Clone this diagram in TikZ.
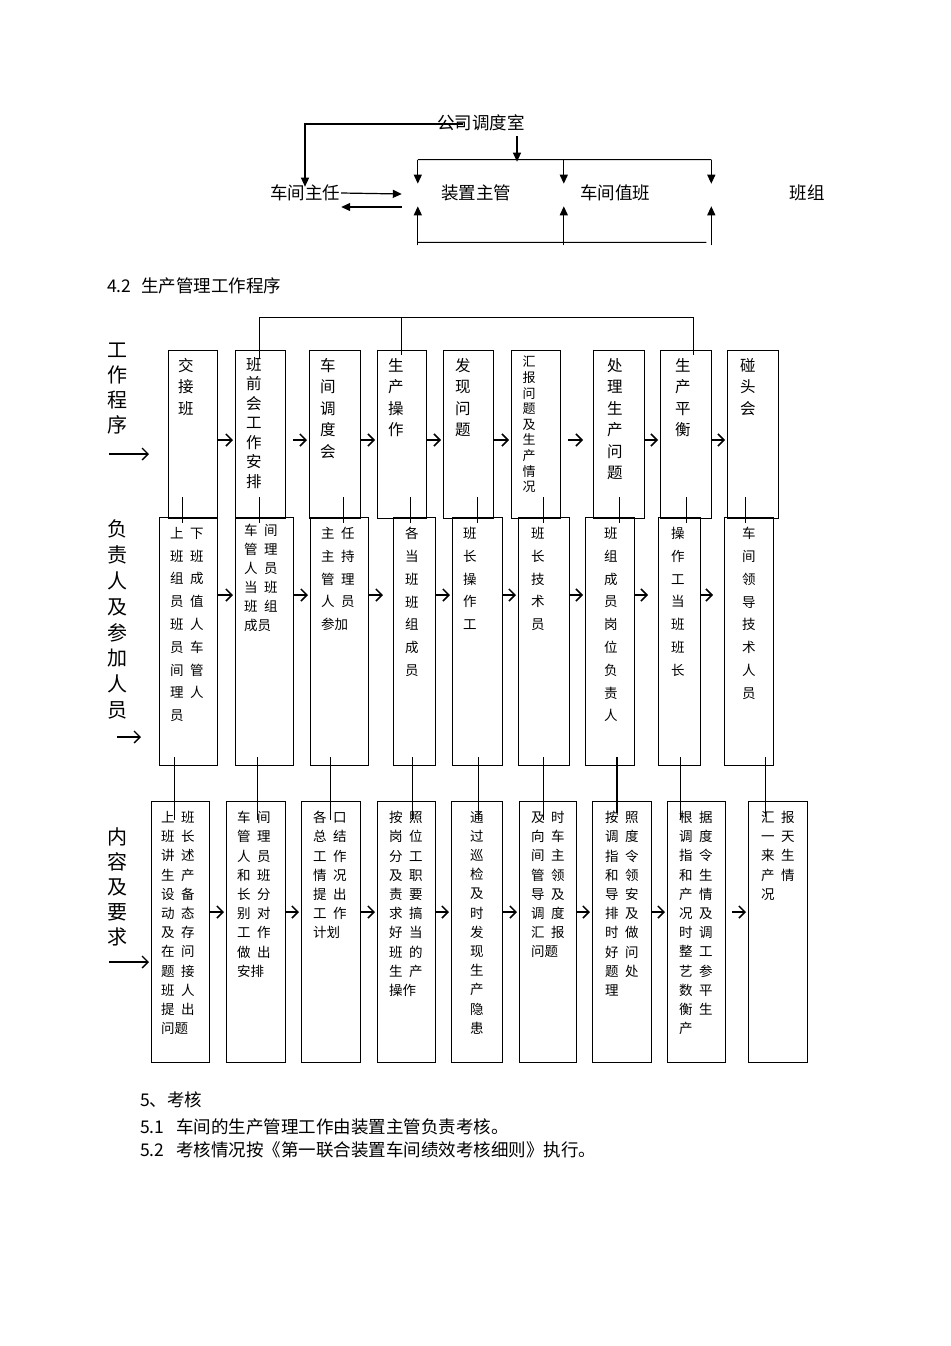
\documentclass[tikz,border=0pt]{standalone}
\usepackage{fontspec}
\setmainfont{Noto Sans CJK SC}
\usetikzlibrary{arrows.meta,calc}

\newcommand{\twocol}[2]{\makebox[20pt][l]{#1}#2}

\tikzset{
  stepbox/.style={draw, line width=1pt, inner sep=0pt, outer sep=0pt},
  workbox/.style={stepbox, minimum height=168},
  staffbox/.style={stepbox, minimum height=248},
  taskbox/.style={stepbox, minimum height=261},
  headcell/.style={anchor=north west, inner sep=0pt, align=left, font=\fontsize{15.5}{21.5}\selectfont},
  staffcell/.style={anchor=north west, inner sep=0pt, align=left, font=\fontsize{13.5}{22.8}\selectfont},
  taskcell/.style={anchor=north west, inner sep=0pt, align=left, font=\fontsize{13.5}{19.2}\selectfont},
  sidelabel/.style={inner sep=0pt, align=center, font=\fontsize{20}{25}\selectfont},
  toptext/.style={inner sep=1pt, font=\fontsize{17.5}{21}\selectfont},
  plaintext/.style={anchor=west, inner sep=0pt, font=\fontsize{17.5}{21}\selectfont},
  link/.style={draw, line width=1pt},
  tip/.style={draw, line width=1.2pt, -{Triangle[length=9pt,width=8pt]}},
  flow/.style={draw, line width=1.5pt, -{Straight Barb[length=6pt,width=12pt]}},
  sidearrow/.style={draw, line width=1.3pt, -{Straight Barb[length=6pt,width=12pt]}}
}

\begin{document}
\begin{tikzpicture}[x=1pt,y=-1pt]
\useasboundingbox (0,0) rectangle (950,1346);
\fill[white] (0,0) rectangle (950,1346);

% top chart
\node[toptext] (dispatch) at (481,123) {公司调度室};
\node[toptext] (director) at (305,193) {车间主任};
\node[toptext] (unitmgr) at (476,193) {装置主管};
\node[toptext] (duty) at (615,193) {车间值班};
\node[toptext] (team) at (807,193) {班组};

\coordinate (busL) at ($(unitmgr.north west)+(-22,-24)$);
\coordinate (busR) at ($(team.north west)+(-77,-24)$);
\coordinate (baseL) at ($(unitmgr.south west)+(-22,40)$);
\coordinate (baseR) at ($(team.south west)+(-82,40)$);

\draw[tip, shorten >=-3pt] ($(dispatch.west)+(27,1)$) -| (director.north);
\draw[tip] ($(dispatch.south)+(36,4)$) -- ($(busL -| dispatch.south)+(36,2)$);
\draw[link] (busL) -- (busR);
\draw[tip] (busL) -- ($(unitmgr.north west)+(-22,0)$);
\draw[tip] ($(duty.north west)+(-15,-24)$) -- ($(duty.north west)+(-15,0)$);
\draw[tip] (busR) -- ($(team.north west)+(-77,0)$);
\draw[link] (baseL) -- (baseR);
\draw[tip] ($(unitmgr.south west)+(-22,43)$) -- ($(unitmgr.south west)+(-22,4)$);
\draw[tip] ($(duty.south west)+(-15,43)$) -- ($(duty.south west)+(-15,4)$);
\draw[tip] ($(team.south west)+(-77,43)$) -- ($(team.south west)+(-77,4)$);
\draw[tip] (director.east) -- ($(unitmgr.west)+(-38,1)$);
\draw[tip] ($(unitmgr.west)+(-38,14)$) -- ($(director.east)+(0,14)$);

\node[plaintext] (sec42) at (107,286) {4.2\hspace{10pt}生产管理工作程序};

% side labels
\node[sidelabel] (lblwork) at (117,389) {工\\作\\程\\序};
\node[sidelabel, font=\fontsize{20}{25.9}\selectfont] (lblstaff) at (117,619.5) {负\\责\\人\\及\\参\\加\\人\\员};
\node[sidelabel] (lbltask) at (117,887) {内\\容\\及\\要\\求};

% row 1
\node[workbox, minimum width=49] (work1) at (192.5,434) {};
\node[workbox, minimum width=50] (work2) at (260,434) {};
\node[workbox, minimum width=51] (work3) at (334.5,434) {};
\node[workbox, minimum width=49] (work4) at (401.5,434) {};
\node[workbox, minimum width=50] (work5) at (468,434) {};
\node[workbox, minimum width=49] (work6) at (535.5,434) {};
\node[workbox, minimum width=51] (work7) at (618.5,434) {};
\node[workbox, minimum width=51] (work8) at (685.5,434) {};
\node[workbox, minimum width=51] (work9) at (752.5,434) {};

\node[headcell] at ($(work1.north west)+(10,8)$) {交\\接\\班};
\node[headcell, font=\fontsize{15.5}{19.5}\selectfont] at ($(work2.north west)+(11,7)$) {班\\前\\会\\工\\作\\安\\排};
\node[headcell] at ($(work3.north west)+(11,8)$) {车\\间\\调\\度\\会};
\node[headcell] at ($(work4.north west)+(11,8)$) {生\\产\\操\\作};
\node[headcell] at ($(work5.north west)+(12,8)$) {发\\现\\问\\题};
\node[headcell, font=\fontsize{13}{15.6}\selectfont] at ($(work6.north west)+(11.5,6)$) {汇\\报\\问\\题\\及\\生\\产\\情\\况};
\node[headcell] at ($(work7.north west)+(14,8)$) {处\\理\\生\\产\\问\\题};
\node[headcell] at ($(work8.north west)+(15,8)$) {生\\产\\平\\衡};
\node[headcell] at ($(work9.north west)+(13,8)$) {碰\\头\\会};

\draw[link] ($(work2.north west)+(24,9)$) |- ($(work8.north west)+(33,-33)$) -- ($(work8.north west)+(33,5)$);
\draw[link] ($(work4.north west)+(24,5)$) -- ($(work4.north west)+(24,-33)$);

\draw[flow] ($(work1.east)+(0,6)$) -- ($(work2.west)+(-2,6)$);
\draw[flow] ($(work2.east)+(8,6)$) -- ($(work3.west)+(-2,6)$);
\draw[flow] ($(work3.east)+(0,6)$) -- ($(work4.west)+(-2,6)$);
\draw[flow] ($(work4.east)+(0,6)$) -- ($(work5.west)+(-2,6)$);
\draw[flow] ($(work5.east)+(0,6)$) -- ($(work6.west)+(-2,6)$);
\draw[flow] ($(work6.east)+(8,6)$) -- ($(work7.west)+(-10,6)$);
\draw[flow] ($(work7.east)+(0,6)$) -- ($(work8.west)+(-2,6)$);
\draw[flow] ($(work8.east)+(0,6)$) -- ($(work9.west)+(-2,6)$);

% row 2
\node[staffbox, minimum width=58] (staff1) at (188,641) {};
\node[staffbox, minimum width=58] (staff2) at (264,641) {};
\node[staffbox, minimum width=58] (staff3) at (339,641) {};
\node[staffbox, minimum width=42] (staff4) at (414,641) {};
\node[staffbox, minimum width=50] (staff5) at (477,641) {};
\node[staffbox, minimum width=51] (staff6) at (543.5,641) {};
\node[staffbox, minimum width=49] (staff7) at (609.5,641) {};
\node[staffbox, minimum width=42] (staff8) at (679,641) {};
\node[staffbox, minimum width=49] (staff9) at (748.5,641) {};

\node[staffcell] at ($(staff1.north west)+(11,10)$) {\twocol{上}{下}\\\twocol{班}{班}\\\twocol{组}{成}\\\twocol{员}{值}\\\twocol{班}{人}\\\twocol{员}{车}\\\twocol{间}{管}\\\twocol{理}{人}\\员};
\node[staffcell, font=\fontsize{13.5}{19}\selectfont] at ($(staff2.north west)+(9,7)$) {\twocol{车}{间}\\\twocol{管}{理}\\\twocol{人}{员}\\\twocol{当}{班}\\\twocol{班}{组}\\成员};
\node[staffcell] at ($(staff3.north west)+(11,10)$) {\twocol{主}{任}\\\twocol{主}{持}\\\twocol{管}{理}\\\twocol{人}{员}\\参加};
\node[staffcell] at ($(staff4.north west)+(12,10)$) {各\\当\\班\\班\\组\\成\\员};
\node[staffcell] at ($(staff5.north west)+(11,10)$) {班\\长\\操\\作\\工};
\node[staffcell] at ($(staff6.north west)+(13,10)$) {班\\长\\技\\术\\员};
\node[staffcell] at ($(staff7.north west)+(19,10)$) {班\\组\\成\\员\\岗\\位\\负\\责\\人};
\node[staffcell] at ($(staff8.north west)+(13,10)$) {操\\作\\工\\当\\班\\班\\长};
\node[staffcell] at ($(staff9.north west)+(18,10)$) {车\\间\\领\\导\\技\\术\\人\\员};

\draw[flow] ($(staff1.east)+(0,-46)$) -- ($(staff2.west)+(-2,-46)$);
\draw[flow] ($(staff2.east)+(0,-46)$) -- ($(staff3.west)+(-2,-46)$);
\draw[flow] ($(staff3.east)+(0,-46)$) -- ($(staff4.west)+(-10,-46)$);
\draw[flow] ($(staff4.east)+(0,-46)$) -- ($(staff5.west)+(-2,-46)$);
\draw[flow] ($(staff5.east)+(0,-46)$) -- ($(staff6.west)+(-2,-46)$);
\draw[flow] ($(staff6.east)+(0,-46)$) -- ($(staff7.west)+(-2,-46)$);
\draw[flow] ($(staff7.east)+(0,-46)$) -- ($(staff8.west)+(-10,-46)$);
\draw[flow] ($(staff8.east)+(0,-46)$) -- ($(staff9.west)+(-11,-46)$);

% row 3
\node[taskbox, minimum width=58] (task1) at (180,931.5) {};
\node[taskbox, minimum width=59] (task2) at (255.5,931.5) {};
\node[taskbox, minimum width=59] (task3) at (330.5,931.5) {};
\node[taskbox, minimum width=58] (task4) at (406,931.5) {};
\node[taskbox, minimum width=51] (task5) at (476.5,931.5) {};
\node[taskbox, minimum width=57] (task6) at (547.5,931.5) {};
\node[taskbox, minimum width=59] (task7) at (621.5,931.5) {};
\node[taskbox, minimum width=58] (task8) at (696,931.5) {};
\node[taskbox, minimum width=59] (task9) at (777.5,931.5) {};

\node[taskcell] at ($(task1.north west)+(10,10)$) {\twocol{上}{班}\\\twocol{班}{长}\\\twocol{讲}{述}\\\twocol{生}{产}\\\twocol{设}{备}\\\twocol{动}{态}\\\twocol{及}{存}\\\twocol{在}{问}\\\twocol{题}{接}\\\twocol{班}{人}\\\twocol{提}{出}\\问题};
\node[taskcell] at ($(task2.north west)+(11,10)$) {\twocol{车}{间}\\\twocol{管}{理}\\\twocol{人}{员}\\\twocol{和}{班}\\\twocol{长}{分}\\\twocol{别}{对}\\\twocol{工}{作}\\\twocol{做}{出}\\安排};
\node[taskcell] at ($(task3.north west)+(12,10)$) {\twocol{各}{口}\\\twocol{总}{结}\\\twocol{工}{作}\\\twocol{情}{况}\\\twocol{提}{出}\\\twocol{工}{作}\\计划};
\node[taskcell] at ($(task4.north west)+(12,10)$) {\twocol{按}{照}\\\twocol{岗}{位}\\\twocol{分}{工}\\\twocol{及}{职}\\\twocol{责}{要}\\\twocol{求}{搞}\\\twocol{好}{当}\\\twocol{班}{的}\\\twocol{生}{产}\\操作};
\node[taskcell] at ($(task5.north west)+(19,10)$) {通\\过\\巡\\检\\及\\时\\发\\现\\生\\产\\隐\\患};
\node[taskcell] at ($(task6.north west)+(12,10)$) {\twocol{及}{时}\\\twocol{向}{车}\\\twocol{间}{主}\\\twocol{管}{领}\\\twocol{导}{及}\\\twocol{调}{度}\\\twocol{汇}{报}\\问题};
\node[taskcell] at ($(task7.north west)+(13,10)$) {\twocol{按}{照}\\\twocol{调}{度}\\\twocol{指}{令}\\\twocol{和}{领}\\\twocol{导}{安}\\\twocol{排}{及}\\\twocol{时}{做}\\\twocol{好}{问}\\\twocol{题}{处}\\理};
\node[taskcell] at ($(task8.north west)+(12,10)$) {\twocol{根}{据}\\\twocol{调}{度}\\\twocol{指}{令}\\\twocol{和}{生}\\\twocol{产}{情}\\\twocol{况}{及}\\\twocol{时}{调}\\\twocol{整}{工}\\\twocol{艺}{参}\\\twocol{数}{平}\\\twocol{衡}{生}\\产};
\node[taskcell] at ($(task9.north west)+(13,10)$) {\twocol{汇}{报}\\\twocol{一}{天}\\\twocol{来}{生}\\\twocol{产}{情}\\况};

\draw[flow] ($(task1.east)+(0,-19.5)$) -- ($(task2.west)+(-2,-19.5)$);
\draw[flow] ($(task2.east)+(0,-19.5)$) -- ($(task3.west)+(-2,-19.5)$);
\draw[flow] ($(task3.east)+(0,-19.5)$) -- ($(task4.west)+(-2,-19.5)$);
\draw[flow] ($(task4.east)+(0,-19.5)$) -- ($(task5.west)+(-2,-19.5)$);
\draw[flow] ($(task5.east)+(0,-19.5)$) -- ($(task6.west)+(-2,-19.5)$);
\draw[flow] ($(task6.east)+(0,-19.5)$) -- ($(task7.west)+(-2,-19.5)$);
\draw[flow] ($(task7.east)+(0,-19.5)$) -- ($(task8.west)+(-2,-19.5)$);
\draw[flow] ($(task8.east)+(7,-19.5)$) -- ($(task9.west)+(-2,-19.5)$);

% links between rows
\draw[link] ($(work1.south -| 182,0)+(0,-21)$) -- ($(staff1.north -| 182,0)+(0,6)$);
\draw[link] ($(work2.south -| 259,0)+(0,-21)$) -- ($(staff2.north -| 259,0)+(0,6)$);
\draw[link] ($(work3.south -| 343,0)+(0,-21)$) -- ($(staff3.north -| 343,0)+(0,6)$);
\draw[link] ($(work4.south -| 410,0)+(0,-21)$) -- ($(staff4.north -| 410,0)+(0,6)$);
\draw[link] ($(work5.south -| 477,0)+(0,-21)$) -- ($(staff5.north -| 477,0)+(0,6)$);
\draw[link] ($(work6.south -| 543,0)+(0,-21)$) -- ($(staff6.north -| 543,0)+(0,6)$);
\draw[link] ($(work7.south -| 619,0)+(0,-21)$) -- ($(staff7.north -| 619,0)+(0,6)$);
\draw[link] ($(work8.south -| 686,0)+(0,-21)$) -- ($(staff8.north -| 686,0)+(0,6)$);
\draw[link] ($(work9.south -| 745,0)+(0,-21)$) -- ($(staff9.north -| 745,0)+(0,6)$);

\draw[link] ($(staff1.south -| 174,0)+(0,-8)$) -- ($(task1.north -| 174,0)+(0,19)$);
\draw[link] ($(staff2.south -| 257,0)+(0,-8)$) -- ($(task2.north -| 257,0)+(0,19)$);
\draw[link] ($(staff3.south -| 330,0)+(0,-8)$) -- ($(task3.north -| 330,0)+(0,19)$);
\draw[link] ($(staff4.south -| 412,0)+(0,-8)$) -- ($(task4.north -| 412,0)+(0,19)$);
\draw[link] ($(staff5.south -| 478,0)+(0,-8)$) -- ($(task5.north -| 478,0)+(0,19)$);
\draw[link] ($(staff6.south -| 543,0)+(0,-8)$) -- ($(task6.north -| 543,0)+(0,19)$);
\draw[link, line width=1.8pt] ($(staff7.south -| 617,0)+(0,-8)$) -- ($(task7.north -| 617,0)+(0,12)$);
\draw[link] ($(staff8.south -| 680,0)+(0,-8)$) -- ($(task8.north -| 680,0)+(0,19)$);
\draw[link] ($(staff9.south -| 765,0)+(0,-8)$) -- ($(task9.north -| 765,0)+(0,16)$);

% side arrows
\draw[sidearrow] ($(work1.west)+(-59,20)$) -- ($(work1.west)+(-19,20)$);
\draw[sidearrow] ($(staff1.west)+(-42,96)$) -- ($(staff1.west)+(-18,96)$);
\draw[sidearrow] ($(task1.west)+(-42,30.5)$) -- ($(task1.west)+(-2,30.5)$);

% section 5
\node[plaintext] (sec5) at (140,1100) {5、考核};
\node[plaintext] (sec51) at (140,1127) {5.1\hspace{12pt}车间的生产管理工作由装置主管负责考核。};
\node[plaintext] (sec52) at (140,1150) {5.2\hspace{12pt}考核情况按《第一联合装置车间绩效考核细则》执行。};
\end{tikzpicture}
\end{document}
